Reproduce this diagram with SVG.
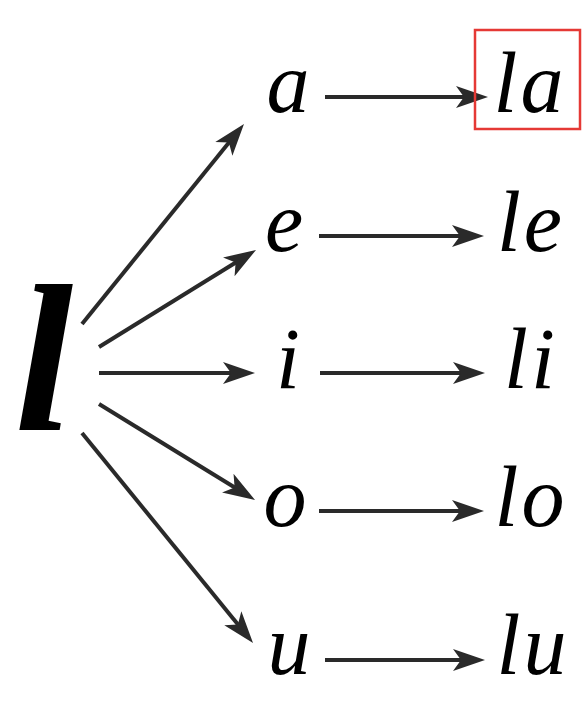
<svg xmlns="http://www.w3.org/2000/svg" width="588" height="720" viewBox="0 0 588 720">
<style>
.t{font-family:"Liberation Serif","DejaVu Serif",serif;font-style:italic;font-size:86px;fill:#000;text-anchor:middle}
.w{letter-spacing:3px}
.big{font-family:"Liberation Serif","DejaVu Serif",serif;font-style:italic;font-weight:bold;font-size:210px;fill:#000;text-anchor:middle}
.c line{stroke:#2a2a2a;stroke-width:4;marker-end:url(#ah)}
</style>
<defs>
<marker id="ah" markerUnits="userSpaceOnUse" markerWidth="40" markerHeight="40" refX="0" refY="0" orient="auto" overflow="visible">
<path d="M20,0 L-12,-11 L-4,0 L-12,11 Z" fill="#2a2a2a"/>
</marker>
</defs>
<rect width="588" height="720" fill="#fff"/>
<g id="src"><text class="big" x="44" y="430">l</text></g>
<g class="c" id="connectors">
<line x1="82" y1="324" x2="231.4" y2="139.5"/>
<line x1="99" y1="347" x2="239" y2="260.5"/>
<line x1="99" y1="373" x2="235" y2="373"/>
<line x1="99" y1="404" x2="238" y2="489.5"/>
<line x1="82" y1="433" x2="240.4" y2="627.5"/>
<line x1="325" y1="97" x2="468" y2="97"/>
<line x1="319" y1="236" x2="464" y2="236"/>
<line x1="320" y1="373" x2="465" y2="373"/>
<line x1="319" y1="511" x2="464" y2="511"/>
<line x1="325" y1="660" x2="465" y2="660"/>
</g>
<g id="v-a"><text class="t" x="288" y="112">a</text></g>
<g id="v-e"><text class="t" x="284" y="251">e</text></g>
<g id="v-i"><text class="t" x="288" y="388">i</text></g>
<g id="v-o"><text class="t" x="285" y="526">o</text></g>
<g id="v-u"><text class="t" x="289" y="674">u</text></g>
<g id="s-la"><rect x="475" y="30" width="105" height="99" fill="none" stroke="#e53935" stroke-width="2.5"/><text class="t w" x="530" y="112">la</text></g>
<g id="s-le"><text class="t w" x="531" y="251">le</text></g>
<g id="s-li"><text class="t w" x="531" y="388">li</text></g>
<g id="s-lo"><text class="t w" x="531" y="526">lo</text></g>
<g id="s-lu"><text class="t w" x="533" y="674">lu</text></g>
</svg>
